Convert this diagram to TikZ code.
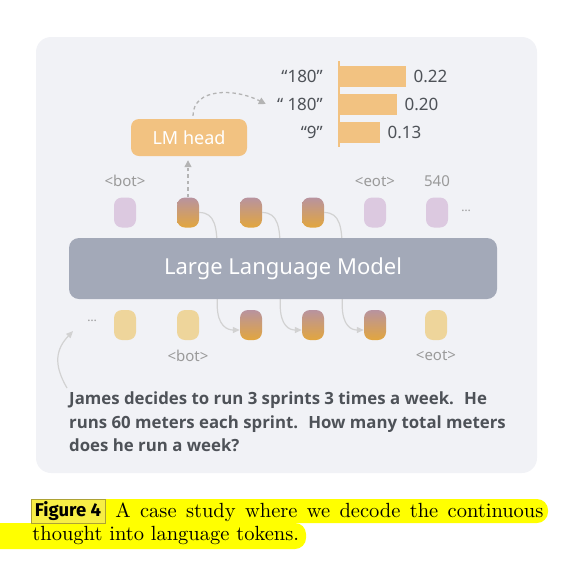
\documentclass[tikz,border=0pt]{standalone}
\usepackage{fontspec}
\usepackage{xcolor}
\usetikzlibrary{arrows.meta,positioning}
\newfontfamily\uifont{Noto Sans}
\newfontfamily\askfont{Open Sans}
\newfontfamily\figfont{Fira Sans}

\definecolor{panelbg}{HTML}{F1F2F6}
\definecolor{llmgray}{HTML}{A3A9B8}
\definecolor{headorange}{HTML}{F2C281}
\definecolor{tokpurple}{HTML}{DCC9E0}
\definecolor{tokyellow}{HTML}{EED59B}
\definecolor{thoughttop}{HTML}{B8939F}
\definecolor{thoughtbot}{HTML}{E2A63E}
\definecolor{linkgray}{HTML}{D2D2D2}
\definecolor{dashgray}{HTML}{B4B4B4}
\definecolor{labelgray}{HTML}{9A9A9A}
\definecolor{textdark}{HTML}{4E5258}
\definecolor{hlyellow}{HTML}{FFFF00}
\definecolor{figbox}{HTML}{F7EE45}
\definecolor{figborder}{HTML}{ADA235}

\begin{document}
\begin{tikzpicture}[x=1pt, y=-1pt,
    token/.style={rectangle, rounded corners=8pt, minimum width=22pt,
                  minimum height=30pt, inner sep=0pt},
    plain/.style={token, fill=tokpurple},
    prompt/.style={token, fill=tokyellow},
    thought/.style={token, top color=thoughttop, bottom color=thoughtbot},
    tag/.style={font=\uifont\fontsize{15}{15}\selectfont, text=labelgray,
                inner sep=0pt},
    bar/.style={rectangle, fill=headorange, minimum height=21pt, inner sep=0pt},
    prob/.style={font=\uifont\fontsize{17}{17}\selectfont, text=textdark,
                 inner sep=0pt},
    link/.style={draw=linkgray, line width=1.2pt,
                 -{Triangle[length=7pt,width=6pt]}},
    dasharrow/.style={draw=dashgray, line width=1.3pt,
                      dash pattern=on 3.5pt off 3pt,
                      -{Triangle[length=7pt,width=7pt]}},
    node distance=10pt
]
\useasboundingbox (0,0) rectangle (580,579);
\fill[panelbg, rounded corners=15pt] (36,37) rectangle (537,473);

% token rows
\foreach \i/\x/\s in {1/125/plain,2/188/thought,3/251/thought,
                      4/313/thought,5/375/plain,6/437/plain}
  \node[\s] (top\i) at (\x,212.5) {};
\foreach \i/\x/\s in {1/125/prompt,2/188/prompt,3/251/thought,
                      4/313/thought,5/375/thought,6/436/prompt}
  \node[\s] (bot\i) at (\x,325) {};

\node[tag, font=\uifont\fontsize{12}{12}\selectfont] (moreR) at (466,211) {…};
\node[tag, font=\uifont\fontsize{12}{12}\selectfont] (moreL) at (92,321) {…};

% continuous thoughts fed back
\foreach \a/\b in {2/3,3/4,4/5}
  \draw[link] (top\a.east) .. controls +(16,0) and +(0,-25) .. ++(18,40)
    -- ++(0,52) .. controls +(0,22) and +(-12,0) .. ([yshift=-5pt]bot\b.west);

\node[rectangle, rounded corners=10pt, fill=llmgray, minimum width=428pt,
      minimum height=61pt, text=white,
      font=\uifont\fontsize{22}{22}\selectfont] (llm) at (283,268.5)
      {Large Language Model};

\node[tag, above=10pt of top1] (botA) {<bot>};
\node[tag, above=10pt of top5] (eotA) {<eot>};
\node[tag, above=10pt of top6] (ans) {540};
\node[tag, below=10pt of bot2] (botB) {<bot>};
\node[tag, below=10pt of bot6] (eotB) {<eot>};

% decoding head
\node[rectangle, rounded corners=8pt, fill=headorange, minimum width=116pt,
      minimum height=37pt, text=white,
      font=\uifont\fontsize{18}{18}\selectfont] (lmhead) at (189,137.5)
      {LM head};
\draw[dasharrow, shorten >=4pt] (top2.north) -- (top2.north |- lmhead.south);

% token probabilities
\draw[headorange, line width=2pt] (339,61) -- (339,147);
\foreach \n/\y/\len/\word/\val in {a/76.5/67/{“180”}/0.22,
                                   b/104/58/{“ 180”}/0.20,
                                   c/132/41/{“9”}/0.13} {
  \node[bar, minimum width=\len pt, anchor=west] (bar\n) at (339,\y) {};
  \node[prob, anchor=west] (val\n) at ([xshift=7pt]bar\n.east) {\val};
  \node[prob, anchor=east] (lab\n) at (323,\y) {\word};
}
\draw[dasharrow, shorten <=3pt] ([xshift=4pt]lmhead.north)
  .. controls +(0,-31) and +(-31,-16) .. ([xshift=-11pt]labb.west);

% question
\node[anchor=north west, inner sep=0pt, align=left, text=textdark,
      font=\askfont\bfseries\fontsize{16.8}{23.5}\selectfont] (question)
      at (69,392)
      {James decides to run 3 sprints 3 times a week.~ He\\
       runs 60 meters each sprint.~ How many total meters\\
       does he run a week?};
\draw[link] ([xshift=-2pt,yshift=4pt]question.north west)
  .. controls +(-14,-24) and +(-17,18) .. ([xshift=-14pt,yshift=-10pt]moreL.west);

% caption
\fill[hlyellow, rounded corners=11pt] (80,499) rectangle (548,523);
\fill[hlyellow, rounded corners=11pt] (-30,523) rectangle (306,549);
\node[draw=figborder, fill=figbox, line width=0.8pt, minimum width=74pt,
      minimum height=24pt, inner sep=0pt,
      font=\figfont\bfseries\fontsize{18.5}{18.5}\selectfont] (figlabel)
      at (68,511) {Figure 4};
\coordinate (capA) at (115,517);
\coordinate (capB) at (32,540);
\node[anchor=base west, inner sep=0pt, scale=2.05] (lineA) at (capA)
  {\makebox[208.8pt][s]{A case study where we decode the continuous}};
\node[anchor=base west, inner sep=0pt, scale=2.05] (lineB) at (capB)
  {thought into language tokens.};
\end{tikzpicture}
\end{document}
